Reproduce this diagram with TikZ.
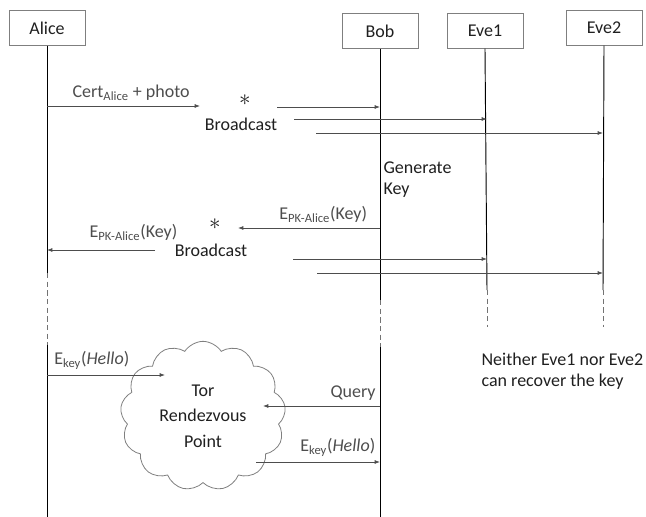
\documentclass[tikz,border=0pt]{standalone}
\usepackage{fontspec}
\setmainfont{Carlito}
\usetikzlibrary{arrows.meta,positioning,shapes.symbols}
\definecolor{boxline}{HTML}{7F7F7F}
\definecolor{msgline}{HTML}{4D4D4D}
\definecolor{txt}{HTML}{1F1F1F}
\newcommand{\bstar}{$\ast$}

\begin{document}
\begin{tikzpicture}[x=0.75pt,y=-0.75pt,
  font=\fontsize{13.5}{16}\selectfont,text=txt,
  actor/.style={draw=boxline,line width=0.6pt,minimum width=57pt,minimum height=26pt,inner sep=2pt},
  life/.style={black,line width=0.7pt},
  gap/.style={life,dashed,dash pattern=on 4pt off 2.5pt,black!55},
  msg/.style={msgline,line width=0.6pt,-{Latex[length=4pt,width=3pt]}},
  lab/.style={inner sep=1pt,align=left},
  bcast/.style={inner sep=0pt,font=\fontsize{17}{17}\selectfont},
  >={Latex[length=4pt,width=3pt]}]
  \useasboundingbox (0,0) rectangle (646,517);
  % actors
  \node[actor] (alice) at (47,28) {Alice};
  \node[actor] (bob) at (380,31) {Bob};
  \node[actor] (eve1) at (485,31) {Eve1};
  \node[actor] (eve2) at (604,28) {Eve2};
  % lifelines
  \coordinate (a1) at (47,273);  \coordinate (a2) at (47,345);  \coordinate (a3) at (47,517);
  \coordinate (b1) at (380,300); \coordinate (b2) at (380,347); \coordinate (b3) at (380,517);
  \coordinate (e1) at (487,290); \coordinate (e1e) at (487,327);
  \coordinate (e2) at (603,290); \coordinate (e2e) at (603,327);
  \draw[life] (alice.south) -- (a1);  \draw[gap] (a1) -- (a2);  \draw[life] (a2) -- (a3);
  \draw[life] (bob.south) -- (b1);    \draw[gap] (b1) -- (b2);  \draw[life] (b2) -- (b3);
  \draw[life] (eve1.south) -- (e1);   \draw[gap] (e1) -- (e1e);
  \draw[life] (eve2.south) -- (e2);   \draw[gap] (e2) -- (e2e);
  % certificate broadcast
  \node[bcast] (star1) at (245,100) {\bstar};
  \node[lab] (bc1) at (241,124) {Broadcast};
  \draw[msg] (47,106) coordinate (c0) -- node[above=3pt,lab,pos=0.55]{Cert\textsubscript{Alice} + photo} (200,106) coordinate (c1);
  \draw[msg] (277,107) coordinate (s1) -- (380,107) coordinate (s1b);
  \draw[msg] (294,119) coordinate (s2) -- (487,119) coordinate (s2b);
  \draw[msg] (316,133) coordinate (s3) -- (603,133) coordinate (s3b);
  \node[lab,anchor=north west] (gen) at (382,160) {Generate\\Key};
  % key broadcast
  \node[bcast] (star2) at (215,224) {\bstar};
  \node[lab] (bc2) at (211,250) {Broadcast};
  \coordinate (k0) at (380,228);
  \coordinate (k1) at (238,228);
  \draw[msg] (k0) -- node[above=3pt,lab,pos=0.4]{E\textsubscript{PK-Alice}(Key)} (k1);
  \draw[msg] (155,250) coordinate (k2) -- node[above=6pt,lab,pos=0.2]{E\textsubscript{PK-Alice}(Key)} (47,250) coordinate (k3);
  \draw[msg] (293,259) coordinate (k4) -- (487,259) coordinate (k5);
  \draw[msg] (317,273) coordinate (k6) -- (603,273) coordinate (k7);
  % rendezvous
  \node[cloud,cloud puffs=13,cloud puff arc=115,draw=boxline,line width=0.6pt,
    minimum width=124pt,minimum height=112pt,align=center,inner sep=0pt] (tor) at (203,416)
    {Tor\\[3pt]Rendezvous\\[3pt]Point};
  \coordinate (h0) at (47,375);  \coordinate (h1) at (165,375);
  \coordinate (q0) at (380,406); \coordinate (q1) at (263,406);
  \coordinate (h2) at (256,462); \coordinate (h3) at (380,462);
  \draw[msg] (h0) -- node[above=3pt,lab,pos=0.38]{E\textsubscript{key}(\textit{Hello})} (h1);
  \draw[msg] (q0) -- node[above=3pt,lab,pos=0.23]{Query} (q1);
  \draw[msg] (h2) -- node[above=3pt,lab,pos=0.66]{E\textsubscript{key}(\textit{Hello})} (h3);
  \node[lab,anchor=north west] (note) at (480,351) {Neither Eve1 nor Eve2\\can recover the key};
\end{tikzpicture}
\end{document}
